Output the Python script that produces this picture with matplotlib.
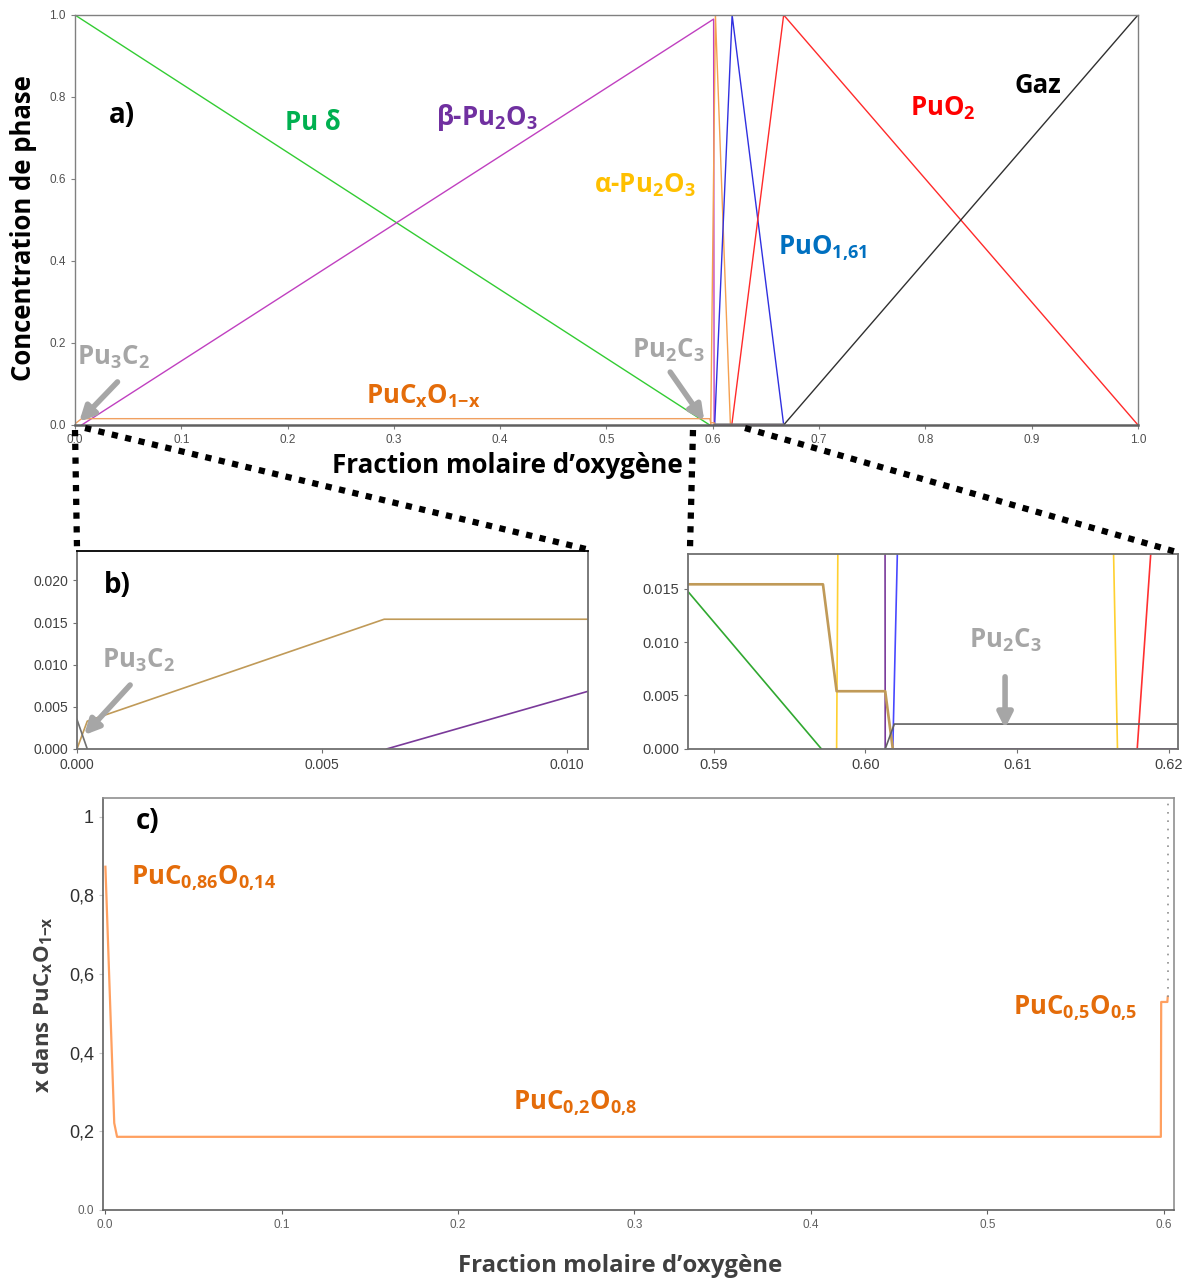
import numpy
import matplotlib
matplotlib.use('Agg')
import matplotlib.pyplot as plt
from matplotlib.lines import Line2D

plt.rcParams['font.family'] = ['Liberation Sans', 'DejaVu Sans']
plt.rcParams['mathtext.fontset'] = 'custom'
plt.rcParams['mathtext.rm'] = 'Open Sans:bold'
plt.rcParams['mathtext.it'] = 'Open Sans:bold'
plt.rcParams['mathtext.bf'] = 'Open Sans:bold'

# phase fractions vs oxygen molar fraction (panels a and b)
x_pu_delta = [0.0, 0.5971]
y_pu_delta = [1.0, 0.0]
x_beta = [0.00632, 0.6008, 0.6013, 0.6667]
y_beta = [0.0, 0.99, 0.0, 0.0]
x_alpha = [0.5981, 0.6025, 0.6166]
y_alpha = [0.0, 1.0, 0.0]
x_puo161 = [0.6018, 0.6182, 0.6667]
y_puo161 = [0.0, 1.0, 0.0]
x_puo2 = [0.6179, 0.6667, 1.0]
y_puo2 = [0.0, 1.0, 0.0]
x_gaz = [0.6667, 1.0]
y_gaz = [0.0, 1.0]
x_pucxo = [0.0, 0.00021, 0.00627, 0.5972, 0.5981, 0.6013, 0.6018]
y_pucxo = [0.0, 0.0033, 0.0154, 0.0154, 0.0054, 0.0054, 0.0]
x_pu3c2 = [0.0, 0.00021]
y_pu3c2 = [0.0035, 0.0]
x_pu2c3 = [0.6013, 0.6019, 0.6667, 0.6667]
y_pu2c3 = [0.0, 0.00233, 0.00233, 0.0]

# x in PuCxO1-x (panel c)
x_c = [0.0002, 0.0052, 0.0068, 0.5983, 0.5985, 0.6020, 0.6022]
y_c = [0.873, 0.221, 0.186, 0.186, 0.529, 0.529, 0.542]
x_c_dots = [0.6022, 0.6022]
y_c_dots = [0.542, 1.05]

phases = [
    ("delta", x_pu_delta, y_pu_delta),
    ("beta", x_beta, y_beta),
    ("alpha", x_alpha, y_alpha),
    ("puo161", x_puo161, y_puo161),
    ("puo2", x_puo2, y_puo2),
    ("gaz", x_gaz, y_gaz),
    ("pucxo", x_pucxo, y_pucxo),
    ("pu3c2", x_pu3c2, y_pu3c2),
    ("pu2c3", x_pu2c3, y_pu2c3),
]
colors_a = {"delta": "#33cc33", "beta": "#c040c0", "alpha": "#f5a050", "puo161": "#3030e0",
            "puo2": "#ff2a2a", "gaz": "#303030", "pucxo": "#f0a060", "pu3c2": "#808080",
            "pu2c3": "#808080"}
colors_zoom = {"delta": "#30a830", "beta": "#7a3a9a", "alpha": "#ffd030", "puo161": "#4848ff",
               "puo2": "#ff3030", "gaz": "#303030", "pucxo": "#c09a58", "pu3c2": "#707070",
               "pu2c3": "#606060"}

FONT = ['Open Sans', 'DejaVu Sans']
ANN = dict(family=FONT, fontweight='bold', ha='center', va='center')
GRAY = "#a6a6a6"
ORANGE = "#e46c0a"
LBL = 18.5


def style_axes(ax, spine_color, labelsize, labelcolor, spine_lw=1.0):
    for s in ax.spines.values():
        s.set_color(spine_color)
        s.set_linewidth(spine_lw)
    ax.tick_params(labelsize=labelsize, labelcolor=labelcolor, color=spine_color,
                   length=3, width=0.8)


def gray_arrow(ax, start, end, transform="data"):
    ax.annotate("", xy=end, xytext=start, xycoords=transform, textcoords=transform,
                arrowprops=dict(arrowstyle="-|>", color=GRAY, lw=4, mutation_scale=22,
                                shrinkA=0, shrinkB=0))


fig = plt.figure(figsize=(11.86, 12.82), dpi=100)
ax_a = fig.add_axes([0.0632, 0.6685, 0.8963, 0.3198])
ax_b = fig.add_axes([0.0649, 0.4158, 0.4309, 0.1544])
ax_b2 = fig.add_axes([0.5801, 0.4158, 0.4132, 0.1521])
ax_c = fig.add_axes([0.0868, 0.0562, 0.9030, 0.3214])

for ax, colors, lw in [(ax_a, colors_a, 1.0), (ax_b, colors_zoom, 1.2), (ax_b2, colors_zoom, 1.2)]:
    for name, xs, ys in phases:
        ax.plot(xs, ys, color=colors[name], lw=lw * (1.6 if (name == "pucxo" and ax is ax_b2) else 1.0))

# a) full range
ax_a.set_xlim(0, 1)
ax_a.set_ylim(0, 1)
ax_a.set_xticks(numpy.arange(0, 1.01, 0.1))
ax_a.set_xticklabels(["%.1f" % v for v in numpy.arange(0, 1.01, 0.1)])
ax_a.set_yticks(numpy.arange(0, 1.01, 0.2))
ax_a.set_yticklabels(["%.1f" % v for v in numpy.arange(0, 1.01, 0.2)])
style_axes(ax_a, "#808080", 8.5, "#505050")
ax_a.spines['bottom'].set_color("#606060")
ax_a.spines['bottom'].set_linewidth(1.8)
ax_a.set_ylabel("Concentration de phase", fontsize=18.5, fontweight='bold', family=FONT)
ax_a.yaxis.set_label_coords(-0.036, 0.48)
ax_a.set_xlabel("Fraction molaire d\u2019oxygène", fontsize=18.7, fontweight='bold', family=FONT)
ax_a.xaxis.set_label_coords(0.407, -0.066)

ax_a.text(0.044, 0.756, "a)", fontsize=20, color="black", **ANN)
ax_a.text(0.224, 0.739, "Pu δ", fontsize=LBL, color="#00b050", **ANN)
ax_a.text(0.388, 0.749, r"β-Pu$_2$O$_3$", fontsize=LBL, color="#7030a0", **ANN)
ax_a.text(0.536, 0.585, r"α-Pu$_2$O$_3$", fontsize=LBL, color="#ffc000", **ANN)
ax_a.text(0.816, 0.773, r"PuO$_2$", fontsize=LBL, color="#ff0000", **ANN)
ax_a.text(0.906, 0.829, "Gaz", fontsize=LBL, color="black", **ANN)
ax_a.text(0.703, 0.432, r"PuO$_{1{,}61}$", fontsize=LBL, color="#0070c0", **ANN)
ax_a.text(0.558, 0.183, r"Pu$_2$C$_3$", fontsize=LBL, color=GRAY, **ANN)
ax_a.text(0.036, 0.166, r"Pu$_3$C$_2$", fontsize=LBL, color=GRAY, **ANN)
ax_a.text(0.328, 0.071, r"PuC$_x$O$_{1{-}x}$", fontsize=LBL, color=ORANGE, **ANN)
gray_arrow(ax_a, (0.040, 0.105), (0.004, 0.008))
gray_arrow(ax_a, (0.560, 0.129), (0.592, 0.010))

# b) zoom near x = 0
ax_b.set_xlim(0, 0.01043)
ax_b.set_ylim(0, 0.0235)
ax_b.set_xticks([0.0, 0.005, 0.010])
ax_b.set_xticklabels(["0.000", "0.005", "0.010"])
ax_b.set_yticks([0.0, 0.005, 0.010, 0.015, 0.020])
ax_b.set_yticklabels(["0.000", "0.005", "0.010", "0.015", "0.020"])
style_axes(ax_b, "#707070", 10, "#404040", 1.3)
ax_b.spines['top'].set_color("black")
ax_b.text(0.078, 0.828, "b)", fontsize=20, color="black", transform=ax_b.transAxes, **ANN)
ax_b.text(0.121, 0.449, r"Pu$_3$C$_2$", fontsize=LBL, color=GRAY, transform=ax_b.transAxes, **ANN)
gray_arrow(ax_b, (0.104, 0.323), (0.014, 0.07), transform="axes fraction")

# b) zoom near x = 0.6
ax_b2.set_xlim(0.58831, 0.62059)
ax_b2.set_ylim(0, 0.01824)
ax_b2.set_xticks([0.59, 0.60, 0.61, 0.62])
ax_b2.set_xticklabels(["0.59", "0.60", "0.61", "0.62"])
ax_b2.set_yticks([0.0, 0.005, 0.010, 0.015])
ax_b2.set_yticklabels(["0.000", "0.005", "0.010", "0.015"])
style_axes(ax_b2, "#707070", 10.5, "#404040", 1.3)
ax_b2.text(0.647, 0.559, r"Pu$_2$C$_3$", fontsize=LBL, color=GRAY, transform=ax_b2.transAxes, **ANN)
gray_arrow(ax_b2, (0.647, 0.37), (0.647, 0.105), transform="axes fraction")

# c) x in PuCxO1-x
ax_c.plot(x_c, y_c, color="#ffa060", lw=1.6)
ax_c.plot(x_c_dots, y_c_dots, color="#909090", lw=1.2, ls=(0, (1, 4)))
ax_c.set_xlim(-0.0012, 0.6057)
ax_c.set_ylim(0, 1.048)
ax_c.set_xticks(numpy.arange(0, 0.61, 0.1))
ax_c.set_xticklabels(["%.1f" % v for v in numpy.arange(0, 0.61, 0.1)])
ax_c.set_yticks([0.0, 0.2, 0.4, 0.6, 0.8, 1.0])
ax_c.set_yticklabels(["0.0", "0,2", "0,4", "0,6", "0,8", "1"])
style_axes(ax_c, "#606060", 8.5, "#606060", 1.2)
ax_c.tick_params(axis='y', color="#c8c8c8")
for lab in ax_c.get_yticklabels()[1:]:
    lab.set_fontsize(13)
    lab.set_color("#303030")
ax_c.spines['top'].set_color("#909090")
ax_c.spines['right'].set_color("#909090")
ax_c.set_ylabel(r"x dans PuC$_x$O$_{1{-}x}$", fontsize=16, fontweight='bold', color="#404040",
                family=FONT)
ax_c.yaxis.set_label_coords(-0.045, 0.4976)
ax_c.set_xlabel("Fraction molaire d\u2019oxygène", fontsize=17.3, fontweight='bold', color="#404040",
                family=FONT)
ax_c.xaxis.set_label_coords(0.483, -0.106)
ax_c.text(0.042, 0.942, "c)", fontsize=20, color="black", transform=ax_c.transAxes, **ANN)
ax_c.text(0.094, 0.806, r"PuC$_{0{,}86}$O$_{0{,}14}$", fontsize=LBL, color=ORANGE,
          transform=ax_c.transAxes, **ANN)
ax_c.text(0.441, 0.260, r"PuC$_{0{,}2}$O$_{0{,}8}$", fontsize=LBL, color=ORANGE,
          transform=ax_c.transAxes, **ANN)
ax_c.text(0.908, 0.490, r"PuC$_{0{,}5}$O$_{0{,}5}$", fontsize=LBL, color=ORANGE,
          transform=ax_c.transAxes, **ANN)

# dotted zoom connectors (figure pixel coords -> fractions)
W, H = 1186.0, 1282.0
for (x0, y0), (x1, y1) in [((75, 430), (77, 548)), ((85, 428), (590, 550)),
                           ((693, 430), (690, 548)), ((745, 428), (1180, 553))]:
    fig.add_artist(Line2D([x0 / W, x1 / W], [1 - y0 / H, 1 - y1 / H], transform=fig.transFigure,
                          color="black", lw=4.5, ls=(0, (1, 1.2))))

fig.savefig("out.png", dpi=100)
